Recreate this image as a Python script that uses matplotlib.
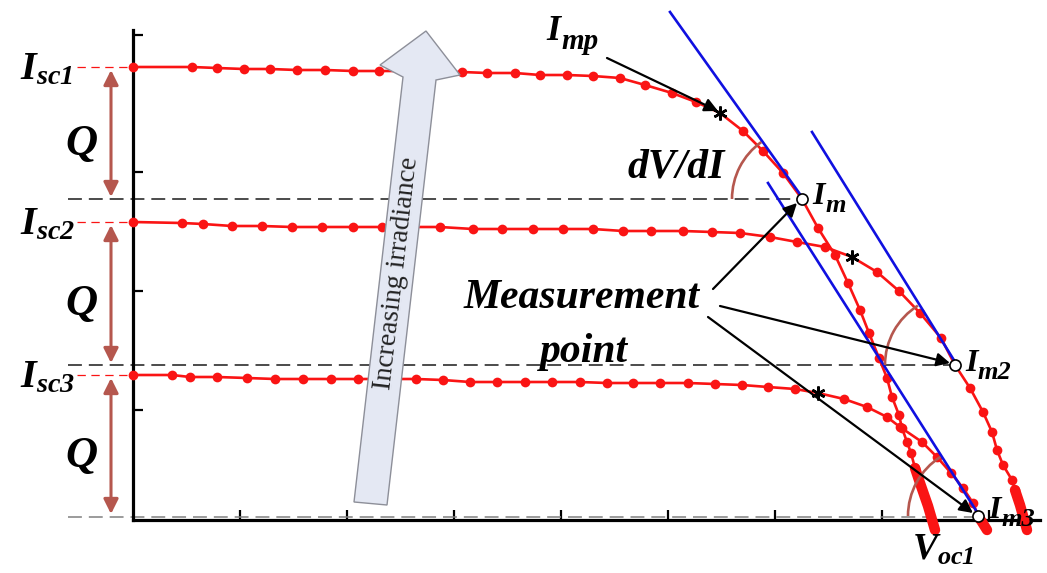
import numpy as np
import matplotlib
matplotlib.use("Agg")
import matplotlib.pyplot as plt
from matplotlib.patches import Arc, Polygon

# ---------------- data (axis units) ----------------
# curve 1 (highest irradiance)
c1_v = [0, 59, 84, 111, 137, 164, 192, 220, 246, 272, 298, 329, 354, 382, 407, 434,
        460, 487, 512, 539, 563, 610, 630, 650, 685, 702, 715, 727, 736, 746, 754,
        759, 766, 769, 774, 778, 782]
c1_i = [453, 453, 452, 451, 451, 450, 450, 449, 449, 449, 448, 448, 447, 447, 445, 445,
        444, 442, 435, 427, 418, 389, 369, 347, 292, 265, 237, 210, 187, 162, 142,
        123, 105, 92, 78, 67, 52]
c1_tail_v = [782, 787, 795, 802]
c1_tail_i = [52, 37, 14, -10]

# curve 2
c2_v = [0, 49, 70, 99, 129, 159, 189, 220, 249, 279, 307, 340, 369, 400, 430, 460,
        490, 518, 550, 579, 607, 637, 664, 692, 744, 766, 787, 808, 837, 850, 859,
        864, 870, 879, 882]
c2_i = [298, 297, 296, 294, 294, 293, 293, 293, 293, 293, 293, 291, 291, 291, 291, 291,
        289, 289, 289, 288, 287, 283, 278, 273, 248, 229, 207, 182, 132, 108, 88,
        70, 55, 40, 30]
c2_tail_v = [882, 887, 894]
c2_tail_i = [30, 15, -10]

# curve 3 (lowest irradiance)
c3_v = [0, 39, 57, 84, 114, 142, 170, 198, 225, 254, 283, 310, 337, 364, 392, 419,
        447, 474, 500, 527, 555, 582, 609, 635, 662, 711, 734, 754, 767, 789, 804,
        818, 830, 840]
c3_i = [145, 145, 143, 143, 142, 141, 141, 141, 141, 141, 141, 140, 138, 138, 138, 138,
        138, 137, 137, 137, 137, 136, 135, 133, 131, 121, 113, 103, 93, 78, 63,
        47, 32, 17]
c3_tail_v = [845, 849, 854]
c3_tail_i = [4, -2, -10]

# maximum power points (*) and measurement points (o)
mpp_v = [587, 719, 685]
mpp_i = [407, 263, 127]
meas_v = [669, 822, 845]
meas_i = [321, 155, 4]

# short-circuit currents
isc = [453, 298, 145]

# tangent lines through the measurement points (start / end)
tan_v = [[537, 669], [679, 824], [635, 844]]
tan_i = [[508, 323], [388, 155], [337, 8]]
tan_angle = [125.5, 122.0, 122.4]

# axis ticks
xticks = [107, 214, 321, 428, 535, 642, 749, 856]
yticks = [110, 229, 348, 485]

# ---------------- style ----------------
plt.rcParams["mathtext.fontset"] = "custom"
plt.rcParams["mathtext.rm"] = "Liberation Serif:italic:bold"
plt.rcParams["mathtext.it"] = "Liberation Serif:italic:bold"
plt.rcParams["mathtext.bf"] = "Liberation Serif:italic:bold"
plt.rcParams["lines.scale_dashes"] = False

RED = "#fa1414"
BROWN = "#b5574e"
SERIF = "Liberation Serif"
bi = dict(family=SERIF, style="italic", weight="bold")

fig = plt.figure(figsize=(10.47, 5.73), dpi=100)
ax = fig.add_axes([133 / 1047, 53 / 573, 907 / 1047, 490 / 573])
ax.set_xlim(0, 907)
ax.set_ylim(0, 490)
for s in ("top", "right"):
    ax.spines[s].set_visible(False)
for s in ("left", "bottom"):
    ax.spines[s].set_linewidth(2.3)
ax.set_xticks(xticks)
ax.set_yticks(yticks)
ax.tick_params(direction="in", length=7, width=1.6, labelbottom=False, labelleft=False)

# dashed reference lines
for k in range(3):
    ax.plot([-56, 0], [isc[k], isc[k]], color=RED, lw=0.9, dashes=(6, 4), clip_on=False)
dcol = ["#1a1a1a", "#1a1a1a", "#808080"]
for k in range(3):
    ax.plot([-65, meas_v[k]], [meas_i[k] - (1 if k == 2 else 0)] * 2, color=dcol[k],
            lw=1.1, dashes=(10, 5), clip_on=False, zorder=2)

# curves
curves = [(c1_v, c1_i, c1_tail_v, c1_tail_i),
          (c2_v, c2_i, c2_tail_v, c2_tail_i),
          (c3_v, c3_i, c3_tail_v, c3_tail_i)]
for k, (cv, ci, tv, ti) in enumerate(curves):
    lv = np.array(cv + [mpp_v[k], meas_v[k]])
    li = np.array(ci + [mpp_i[k], meas_i[k]])
    o = np.argsort(lv)
    ax.plot(lv[o], li[o], color=RED, lw=1.9, clip_on=False, zorder=3)
    ax.plot(cv, ci, "o", color=RED, ms=7, mew=0, clip_on=False, zorder=4)
    ax.plot(tv, ti, color=RED, lw=7.5, solid_capstyle="round", clip_on=False, zorder=3)

# tangent lines (blue)
for k in range(3):
    ax.plot(tan_v[k], tan_i[k], color="#1010e0", lw=1.9, zorder=5, clip_on=False)

# angle arcs
for k in range(3):
    ax.add_patch(Arc((meas_v[k], meas_i[k]), 140, 140, theta1=tan_angle[k], theta2=180,
                     color=BROWN, lw=1.9, zorder=5))

# markers
ax.plot(mpp_v, mpp_i, marker=(6, 2, 0), color="black", ms=10, mew=1.8, ls="none", zorder=7)
ax.plot(meas_v, meas_i, "o", mfc="white", mec="black", ms=8, mew=1.2, ls="none",
        zorder=8, clip_on=False)

# Q arrows
qx = -22
for k in range(3):
    ax.annotate("", xy=(qx, meas_i[k] + 2), xytext=(qx, isc[k] - 3),
                arrowprops=dict(arrowstyle="<|-|>", color=BROWN, lw=2.2,
                                mutation_scale=22, shrinkA=0, shrinkB=0),
                annotation_clip=False)
    ax.text(-52, (isc[k] + meas_i[k]) / 2 - 22, "Q", fontsize=32, ha="center",
            va="baseline", **bi)

# Isc labels
for k, lab in enumerate(["sc1", "sc2", "sc3"]):
    ax.text(-113, isc[k] - 12, r"$I_{%s}$" % lab, fontsize=29, ha="left", va="baseline")

# big "increasing irradiance" arrow
arrow_pts = [(293, 489), (327, 445), (303, 440), (254, 15), (221, 18), (270, 443), (247, 455)]
ax.add_patch(Polygon(arrow_pts, closed=True, facecolor="#e4e8f3", edgecolor="#8d8f99",
                     lw=1.0, zorder=9, clip_on=False))
ax.text(264, 247, "Increasing irradiance", rotation=83.4, rotation_mode="anchor",
        ha="center", va="center", fontsize=20, family=SERIF, color="#222222", zorder=10)

# other labels
ax.text(495, 343, "dV/dI", fontsize=30, ha="left", va="baseline", **bi)
ax.text(449, 212, "Measurement", fontsize=30, ha="center", va="baseline", **bi)
ax.text(451, 158, "point", fontsize=30, ha="center", va="baseline", **bi)
ax.text(779, -40, r"$V_{oc1}$", fontsize=27, ha="left", va="baseline")


def label(x, y, main, sub, size, subsize, dx, dy):
    ax.text(x, y, main, fontsize=size, ha="left", va="baseline", zorder=11, **bi)
    ax.text(x + dx, y - dy, sub, fontsize=subsize, ha="left", va="baseline", zorder=11, **bi)


label(413, 480, "I", "mp", 26, 21, 15, 9)
label(679, 316, "I", "m", 23, 19, 13, 8)
label(832, 149, "I", "m2", 23, 19, 13, 8)
label(855, 2, "I", "m3", 23, 19, 13, 8)

# black annotation arrows
arr = [((474, 462), (585, 409)), ((580, 231), (664, 317)),
       ((587, 214), (817, 157)), ((575, 203), (840, 7))]
for (s, e) in arr:
    ax.annotate("", xy=e, xytext=s,
                arrowprops=dict(arrowstyle="-|>", color="black", lw=1.6,
                                mutation_scale=20, shrinkA=0, shrinkB=0),
                annotation_clip=False, zorder=6)

fig.savefig("out.png", dpi=100)
